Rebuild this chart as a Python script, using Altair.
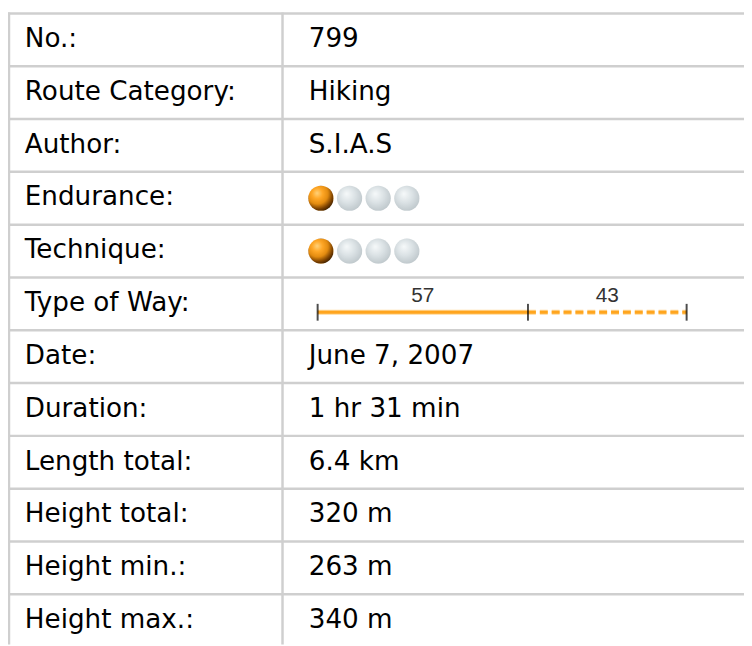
import altair as alt
import pandas as pd

# ---- data ----
labels = ["No.:", "Route Category:", "Author:", "Endurance:", "Technique:",
          "Type of Way:", "Date:", "Duration:", "Length total:", "Height total:",
          "Height min.:", "Height max.:"]
values = ["799", "Hiking", "S.I.A.S", "", "", "", "June 7, 2007", "1 hr 31 min",
          "6.4 km", "320 m", "263 m", "340 m"]
rating_rows = ["Endurance:", "Technique:"]
rating_levels = [1, 1]
rating_max = 4
way_parts = [57, 43]
way_styles = ["solid", "dashed"]

n_rows = len(labels)

# ---- tables built from the lists ----
text_rows = []
for i, (lab, val) in enumerate(zip(labels, values)):
    text_rows.append({"row": i + 0.5, "col": 0, "text": lab})
    if val:
        text_rows.append({"row": i + 0.5, "col": 1, "text": val})
text_df = pd.DataFrame(text_rows)

lines_df = pd.DataFrame({"row": list(range(n_rows))})

balls = []
for name, lvl in zip(rating_rows, rating_levels):
    r = labels.index(name) + 0.5
    for k in range(rating_max):
        balls.append({"row": r, "idx": k, "on": k < lvl})
balls_df = pd.DataFrame(balls)

way_row = labels.index("Type of Way:") + 0.5
starts, ends, acc = [], [], 0
for p in way_parts:
    starts.append(acc)
    acc += p
    ends.append(acc)
way_df = pd.DataFrame({"row": way_row, "start": starts, "end": ends,
                       "mid": [(s + e) / 2 for s, e in zip(starts, ends)],
                       "value": [str(p) for p in way_parts], "style": way_styles})
ticks_df = pd.DataFrame({"row": way_row, "pos": [0] + ends})

# ---- scales ----
Y = alt.Scale(domain=[0, n_rows], range=[2, 642.6])
ycol = alt.Y("row:Q", scale=Y, axis=None)
way_x = alt.Scale(domain=[0, 100], range=[313, 686])
ball_x = alt.Scale(domain=[0, rating_max - 1], range=[316.3, 403.2])
col_x = alt.Scale(domain=[0, 1], range=[17, 304])

grid = "#cfcfcf"

hlines = alt.Chart(lines_df).mark_rule(color=grid, strokeWidth=2.5).encode(
    y=ycol, x=alt.value(0), x2=alt.value(744))
vlines = alt.Chart(pd.DataFrame({"c": [1, 277.5]})).mark_rule(color=grid, strokeWidth=2.5).encode(
    x=alt.X("c:Q", scale=alt.Scale(domain=[0, 744], range=[0, 744]), axis=None),
    y=alt.value(1), y2=alt.value(640))

texts = alt.Chart(text_df).mark_text(
    align="left", baseline="alphabetic", dy=7.3, font="DejaVu Sans",
    fontSize=26.5, color="#000000").encode(
    x=alt.X("col:Q", scale=col_x, axis=None), y=ycol, text="text:N")

orange = alt.RadialGradient(
    gradient="radial", x1=0.35, y1=0.3, r1=0.0, x2=0.38, y2=0.33, r2=0.75,
    stops=[alt.GradientStop(color="#ffd27a", offset=0.0),
           alt.GradientStop(color="#ffa726", offset=0.28),
           alt.GradientStop(color="#e48c10", offset=0.55),
           alt.GradientStop(color="#7a4000", offset=0.8),
           alt.GradientStop(color="#2e1800", offset=1.0)])
grey = alt.RadialGradient(
    gradient="radial", x1=0.38, y1=0.32, r1=0.0, x2=0.45, y2=0.42, r2=0.62,
    stops=[alt.GradientStop(color="#f6f9fa", offset=0.0),
           alt.GradientStop(color="#dbe2e5", offset=0.5),
           alt.GradientStop(color="#bdc6ca", offset=1.0)])

balls_on = alt.Chart(balls_df).transform_filter("datum.on").mark_circle(
    size=650, fill=orange, opacity=1).encode(
    x=alt.X("idx:Q", scale=ball_x, axis=None), y=ycol)
balls_off = alt.Chart(balls_df).transform_filter("!datum.on").mark_circle(
    size=650, fill=grey, opacity=1).encode(
    x=alt.X("idx:Q", scale=ball_x, axis=None), y=ycol)

dash = alt.StrokeDash("style:N", scale=alt.Scale(domain=["solid", "dashed"],
                                                 range=[[1, 0], [8, 4]]), legend=None)
way_halo = alt.Chart(way_df).mark_rule(color="#ffd89a", strokeWidth=5, yOffset=8.5,
                                       strokeCap="butt").encode(
    x=alt.X("start:Q", scale=way_x, axis=None), x2="end:Q", y=ycol, strokeDash=dash)
way_line = alt.Chart(way_df).mark_rule(color="#ffa51e", strokeWidth=3, yOffset=8.5,
                                       strokeCap="butt").encode(
    x=alt.X("start:Q", scale=way_x, axis=None), x2="end:Q", y=ycol, strokeDash=dash)
way_ticks = alt.Chart(ticks_df).mark_tick(orient="vertical", size=17, thickness=2,
                                          color="#000000", yOffset=8.5).encode(
    x=alt.X("pos:Q", scale=way_x, axis=None), y=ycol)
way_text = alt.Chart(way_df).mark_text(font="Liberation Sans", fontSize=21, color="#333333",
                                       baseline="alphabetic", dy=-1.6).encode(
    x=alt.X("mid:Q", scale=way_x, axis=None), y=ycol, text="value:N")

chart = alt.layer(hlines, vlines, texts, balls_off, balls_on,
                  way_halo, way_line, way_ticks, way_text).resolve_scale(
    x="independent").properties(
    width=744, height=638, padding=0, autosize="none", background="white"
).configure_view(stroke=None)

chart.save("out.html", embed_options={"renderer": "svg", "actions": False})
